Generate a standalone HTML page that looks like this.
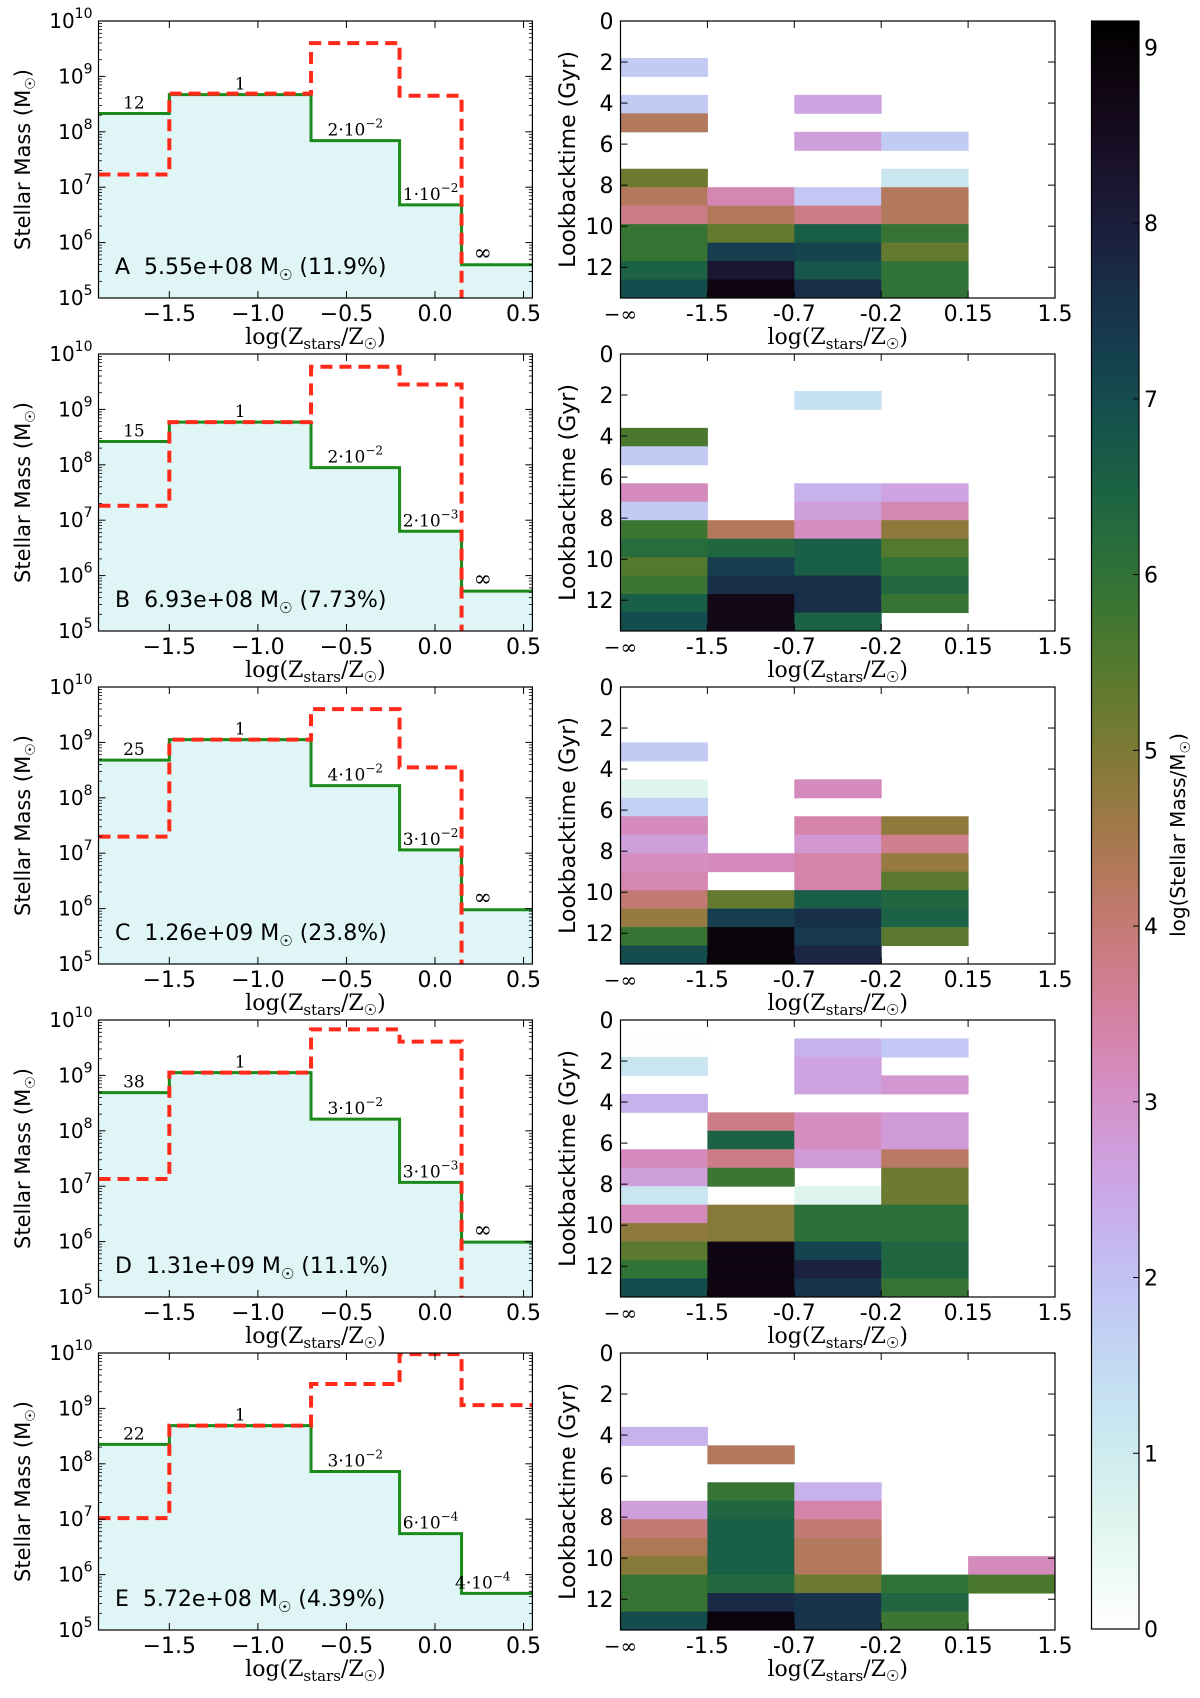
<!DOCTYPE html>
<html><head><meta charset="utf-8"><style>
html,body{margin:0;padding:0;background:#fff}
svg{display:block}
.t{font-family:"DejaVu Sans","Liberation Sans",sans-serif;fill:#000}
.s{font-family:"DejaVu Serif","Liberation Serif",serif;fill:#000}
</style></head><body>
<svg id="fig" xmlns="http://www.w3.org/2000/svg" width="1200" height="1698" viewBox="0 0 1200 1698"></svg>
<script>
// ---------- data ----------
const panelLetters = ["A","B","C","D","E"];
const totalMass = ["5.55e+08","6.93e+08","1.26e+09","1.31e+09","5.72e+08"];
const totalPct = ["11.9%","7.73%","23.8%","11.1%","4.39%"];
const binEdges = [-1.9,-1.5,-0.7,-0.2,0.15,0.55];
const greenA = [8.33,8.67,7.84,6.68,5.60];
const greenB = [8.42,8.77,7.95,6.80,5.72];
const greenC = [8.68,9.05,8.22,7.06,5.98];
const greenD = [8.69,9.05,8.21,7.07,5.99];
const greenE = [8.35,8.69,7.86,6.74,5.66];
const redA = [7.23,8.69,9.60,8.65,null];
const redB = [7.26,8.77,9.77,9.45,null];
const redC = [7.30,9.05,9.60,8.55,null];
const redD = [7.13,9.05,9.83,9.61,null];
const redE = [7.02,8.69,9.44,9.98,9.06];
const stepLabelsA = [["12",""],["1",""],["2·10","−2"],["1·10","−2"],["∞",""]];
const stepLabelsB = [["15",""],["1",""],["2·10","−2"],["2·10","−3"],["∞",""]];
const stepLabelsC = [["25",""],["1",""],["4·10","−2"],["3·10","−2"],["∞",""]];
const stepLabelsD = [["38",""],["1",""],["3·10","−2"],["3·10","−3"],["∞",""]];
const stepLabelsE = [["22",""],["1",""],["3·10","−2"],["6·10","−4"],["4·10","−4"]];
const xTicksLeft = [-1.5,-1.0,-0.5,0.0,0.5];
const xTickLabelsLeft = ["−1.5","−1.0","−0.5","0.0","0.5"];
const yDecades = [5,6,7,8,9,10];
const zCategories = ["−∞","-1.5","-0.7","-0.2","0.15","1.5"];
const timeTicks = [0,2,4,6,8,10,12];
const rowWidthGyr = 0.9;
const heatA = [
 [0,0,1.8,0,1.8,4.3,0,0,5.2,4.3,3.8,5.9,5.9,6.5,7.0],
 [0,0,0,0,0,0,0,0,0,3.3,4.3,5.3,7.3,8.2,8.8],
 [0,0,0,0,2.6,0,2.7,0,0,1.9,3.8,6.6,7.2,6.8,7.6],
 [0,0,0,0,0,0,1.8,0,1.2,4.3,4.3,5.9,5.3,6.0,6.0],
 [0,0,0,0,0,0,0,0,0,0,0,0,0,0,0]];
const heatB = [
 [0,0,0,0,5.6,1.8,0,3.2,1.8,5.8,6.2,5.5,5.8,6.6,7.0],
 [0,0,0,0,0,0,0,0,0,4.3,6.4,7.3,7.6,8.7,8.7],
 [0,0,1.3,0,0,0,0,2.3,2.7,3.1,6.6,6.6,7.6,7.6,6.5],
 [0,0,0,0,0,0,0,2.6,3.3,4.8,5.5,6.0,6.3,5.9,0],
 [0,0,0,0,0,0,0,0,0,0,0,0,0,0,0]];
const heatC = [
 [0,0,0,1.8,0,0.6,1.7,3.2,2.7,3.1,3.3,4.0,4.7,5.9,7.0],
 [0,0,0,0,0,0,0,0,0,3.2,0,5.3,7.3,8.9,8.9],
 [0,0,0,0,0,3.2,0,3.4,2.9,3.4,3.4,6.6,7.6,7.4,7.8],
 [0,0,0,0,0,0,0,4.8,3.7,4.7,5.4,6.4,6.5,5.4,0],
 [0,0,0,0,0,0,0,0,0,0,0,0,0,0,0]];
const heatD = [
 [0,0.05,1.2,0,2.3,0,0,3.2,2.7,1.2,3.2,4.8,5.4,6.0,7.0],
 [0,0,0,0,0,3.8,6.5,3.8,5.8,0,4.9,4.9,8.8,8.8,8.8],
 [0,2.3,2.6,2.6,0,3.1,3.1,2.8,0,0.6,6.1,6.1,7.2,7.9,7.5],
 [0,1.9,0,2.9,0,2.8,2.8,4.2,5.2,5.2,6.1,6.1,6.4,6.4,5.9],
 [0,0,0,0,0,0,0,0,0,0,0,0,0,0,0]];
const heatE = [
 [0,0,0,0,2.3,0,0,0,2.7,4.0,4.4,4.9,5.9,5.9,7.0],
 [0,0,0,0,0,4.3,0,5.9,6.4,6.6,6.6,6.6,6.3,7.7,8.9],
 [0,0,0,0,0,0,0,2.3,3.4,4.0,4.3,4.3,5.2,7.5,7.5],
 [0,0,0,0,0,0,0,0,0,0,0,0,6.0,6.4,5.8],
 [0,0,0,0,0,0,0,0,0,0,0,3.2,5.6,0,0]];
const colorTicks = [0,1,2,3,4,5,6,7,8,9];
const colorMax = 9.15;

const greens=[greenA,greenB,greenC,greenD,greenE];
const reds=[redA,redB,redC,redD,redE];
const stepLabels=[stepLabelsA,stepLabelsB,stepLabelsC,stepLabelsD,stepLabelsE];
const heats=[heatA,heatB,heatC,heatD,heatE];

const NS="http://www.w3.org/2000/svg";
const svg=document.getElementById('fig');
function el(tag,attrs,parent,text){const e=document.createElementNS(NS,tag);for(const k in attrs)e.setAttribute(k,attrs[k]);if(text!==undefined)e.textContent=text;(parent||svg).appendChild(e);return e;}
const PT0=21, PITCH=333, PH=277;
const LX0=98.5, LX1=532.4, XMIN=-1.9, XMAX=0.55;
const RX0=620.5, RX1=1055, TMAX=13.5;
const CBX0=1091.5, CBX1=1139, CBY0=21, CBY1=1629;

function cubehelix(x){
  const a=0.5*x*(1-x), phi=2*Math.PI*(0.5/3-1.5*x), c=Math.cos(phi), s=Math.sin(phi);
  const cl=v=>Math.round(255*Math.max(0,Math.min(1,v)));
  return `rgb(${cl(x+a*(-0.14861*c+1.78277*s))},${cl(x+a*(-0.29227*c-0.90649*s))},${cl(x+a*1.97294*c)})`;
}
function cmap(v){return cubehelix(1-Math.max(0,Math.min(colorMax,v))/colorMax);}

for(let p=0;p<5;p++){
  const top=PT0+p*PITCH, bot=top+PH;
  const xs=v=>LX0+(v-XMIN)/(XMAX-XMIN)*(LX1-LX0);
  const ys=m=>bot-(m-5)/5*PH;
  const g=el('g',{},svg);
  
  
  const clipId='clipL'+p;
  const cp=el('clipPath',{id:clipId},g); el('rect',{x:LX0,y:top,width:LX1-LX0,height:PH},cp);
  const gr=greens[p];
  let d=`M${xs(binEdges[0])},${ys(gr[0])}`;
  for(let i=0;i<gr.length;i++){ if(i>0)d+=` L${xs(binEdges[i])},${ys(gr[i])}`; d+=` L${xs(binEdges[i+1])},${ys(gr[i])}`; }
  const fill=el('path',{d:d+` L${xs(XMAX)},${bot} L${xs(XMIN)},${bot} Z`,fill:'#e0f6f6','clip-path':`url(#${clipId})`},g);
   
  const gl=el('path',{d:d,fill:'none',stroke:'#1a8a1a','stroke-width':3,'clip-path':`url(#${clipId})`},g);
   
  const rd=reds[p];
  let r=`M${xs(binEdges[0])},${ys(rd[0])}`;
  for(let i=0;i<rd.length;i++){
    if(rd[i]===null){ r+=` L${xs(binEdges[i])},${bot+5}`; break; }
    if(i>0) r+=` L${xs(binEdges[i])},${ys(rd[i])}`;
    r+=` L${xs(binEdges[i+1])},${ys(rd[i])}`;
  }
  const rl=el('path',{d:r,fill:'none',stroke:'#ff2a1a','stroke-width':4,'stroke-dasharray':'12,7','clip-path':`url(#${clipId})`},g);
   
  for(let i=0;i<5;i++){
    const cx = i===4 ? xs(0.27) : xs((binEdges[i]+binEdges[i+1])/2);
    const lb=stepLabels[p][i];
    const isInf=lb[0]==="∞";
    const t=el('text',{x:cx,y:ys(gr[i])-5,class:'s','font-size':isInf?22:17,'text-anchor':'middle',fill:'#222'},g);
     
    el('tspan',{},t,lb[0]);
    if(lb[1]) el('tspan',{dy:-8,'font-size':12},t,lb[1]);
  }
  const fr=el('rect',{x:LX0,y:top,width:LX1-LX0,height:PH,fill:'none',stroke:'#000','stroke-width':1.2},g);
   
  for(let k=0;k<yDecades.length;k++){
    const dec=yDecades[k], y=ys(dec);
    el('line',{x1:LX0,x2:LX0+7,y1:y,y2:y,stroke:'#000'},g);
    el('line',{x1:LX1,x2:LX1-7,y1:y,y2:y,stroke:'#000'},g);
    const t=el('text',{x:LX0-6,y:y+7,class:'t','font-size':20,'text-anchor':'end'},g);
     
    el('tspan',{},t,'10'); el('tspan',{dy:-10,'font-size':14},t,String(dec));
    if(dec<10) for(let m=2;m<10;m++){ const ym=ys(dec+Math.log10(m));
      el('line',{x1:LX0,x2:LX0+3.5,y1:ym,y2:ym,stroke:'#000','stroke-width':0.8},g);
      el('line',{x1:LX1,x2:LX1-3.5,y1:ym,y2:ym,stroke:'#000','stroke-width':0.8},g);}
  }
  for(let k=0;k<xTicksLeft.length;k++){
    const x=xs(xTicksLeft[k]);
    el('line',{x1:x,x2:x,y1:bot,y2:bot-7,stroke:'#000'},g);
    el('line',{x1:x,x2:x,y1:top,y2:top+7,stroke:'#000'},g);
    const t=el('text',{x:x,y:bot+23,class:'t','font-size':22,'text-anchor':'middle'},g,xTickLabelsLeft[k]);
     
  }
  const xl=el('text',{x:(LX0+LX1)/2,y:bot+46,class:'s','font-size':22,'text-anchor':'middle'},g);
   
  el('tspan',{},xl,'log(Z'); el('tspan',{dy:5,'font-size':15},xl,'stars'); el('tspan',{dy:-5},xl,'/Z'); el('tspan',{dy:5,'font-size':15},xl,'☉'); el('tspan',{dy:-5},xl,')');
  const yl=el('text',{x:0,y:0,class:'t','font-size':21,'text-anchor':'middle',transform:`translate(30,${(top+bot)/2}) rotate(-90)`},g);
   
  el('tspan',{},yl,'Stellar Mass (M'); el('tspan',{dy:5,'font-size':14},yl,'☉'); el('tspan',{dy:-5},yl,')');
  const an=el('text',{x:115,y:top+253,class:'t','font-size':22},g);
   
  el('tspan',{},an,panelLetters[p]+'\u00a0\u00a0'+totalMass[p]+' M'); el('tspan',{dy:6,'font-size':15},an,'☉'); el('tspan',{dy:-6},an,'\u00a0('+totalPct[p]+')');

  const h=el('g',{},svg);
  
  
  const cw=(RX1-RX0)/(zCategories.length-1);
  const yt=t=>top+t/TMAX*PH;
  const hm=heats[p];
  for(let c=0;c<hm.length;c++) for(let rI=0;rI<hm[c].length;rI++){
    const v=hm[c][rI]; if(!(v>0)) continue;
    const y0=yt(rI*rowWidthGyr), y1=yt((rI+1)*rowWidthGyr);
    const rc=el('rect',{x:RX0+c*cw,y:y0,width:cw+0.5,height:y1-y0+0.5,fill:cmap(v)},h);
     
  }
  const hf=el('rect',{x:RX0,y:top,width:RX1-RX0,height:PH,fill:'none',stroke:'#000','stroke-width':1.2},h);
   
  for(let k=0;k<zCategories.length;k++){
    const x=RX0+k*cw;
    el('line',{x1:x,x2:x,y1:bot,y2:bot-7,stroke:'#000'},h);
    el('line',{x1:x,x2:x,y1:top,y2:top+7,stroke:'#000'},h);
    const t=el('text',{x:x,y:bot+23,class:k===0?'s':'t','font-size':k===0?20:22,'text-anchor':'middle',fill:k===0?'#555':'#000'},h,zCategories[k]);
     
  }
  for(let k=0;k<timeTicks.length;k++){
    const y=yt(timeTicks[k]);
    el('line',{x1:RX0,x2:RX0+7,y1:y,y2:y,stroke:'#000'},h);
    el('line',{x1:RX1,x2:RX1-7,y1:y,y2:y,stroke:'#000'},h);
    const t=el('text',{x:RX0-7,y:y+8,class:'t','font-size':22,'text-anchor':'end'},h,String(timeTicks[k]));
     
  }
  const hx=el('text',{x:(RX0+RX1)/2,y:bot+46,class:'s','font-size':22,'text-anchor':'middle'},h);
   
  el('tspan',{},hx,'log(Z'); el('tspan',{dy:5,'font-size':15},hx,'stars'); el('tspan',{dy:-5},hx,'/Z'); el('tspan',{dy:5,'font-size':15},hx,'☉'); el('tspan',{dy:-5},hx,')');
  const hy=el('text',{x:0,y:0,class:'t','font-size':22,'text-anchor':'middle',transform:`translate(575,${(top+bot)/2}) rotate(-90)`},h,'Lookbacktime (Gyr)');
   
}

const cb=el('g',{},svg);


const N=300;
for(let i=0;i<N;i++){
  const v0=i/N*colorMax, y0=CBY1-(i+1)/N*(CBY1-CBY0);
  el('rect',{x:CBX0,y:y0,width:CBX1-CBX0,height:(CBY1-CBY0)/N+0.8,fill:cmap(v0+colorMax/N/2)},cb);
}
el('rect',{x:CBX0,y:CBY0,width:CBX1-CBX0,height:CBY1-CBY0,fill:'none',stroke:'#000','stroke-width':1.2},cb);
for(let k=0;k<colorTicks.length;k++){
  const y=CBY1-colorTicks[k]/colorMax*(CBY1-CBY0);
  el('line',{x1:CBX1,x2:CBX1-6,y1:y,y2:y,stroke:'#000'},cb);
  const t=el('text',{x:CBX1+5,y:y+8,class:'t','font-size':22},cb,String(colorTicks[k]));
   
}
const cl=el('text',{x:0,y:0,class:'t','font-size':20,'text-anchor':'middle',transform:`translate(1185,${(CBY0+CBY1)/2+10}) rotate(-90)`},cb);
 
el('tspan',{},cl,'log(Stellar Mass/M'); el('tspan',{dy:5,'font-size':14},cl,'☉'); el('tspan',{dy:-5},cl,')');
</script>
</body></html>
